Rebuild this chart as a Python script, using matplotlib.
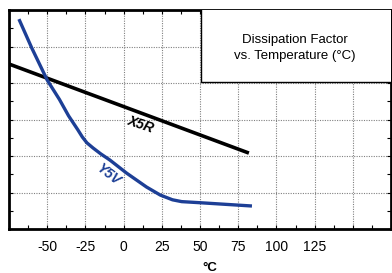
import matplotlib
matplotlib.use("Agg")
import matplotlib.pyplot as plt
from matplotlib.patches import Rectangle
from matplotlib.ticker import MultipleLocator, FixedLocator, FixedFormatter

# Data (temperature in °C, dissipation factor in arbitrary grid units)
x5r_temp = [-75, 82]
x5r_df = [4.52, 2.08]

y5v_temp = [-68.5, -60, -50, -42, -36, -30, -27, -24, -20, -15, -9, 2, 15, 24, 32, 38, 50, 84]
y5v_df = [5.75, 4.95, 4.08, 3.55, 3.1, 2.72, 2.52, 2.36, 2.22, 2.06, 1.89, 1.53, 1.15, 0.93, 0.8, 0.75, 0.72, 0.63]

xtick_vals = [-75, -50, -25, 0, 25, 50, 75, 100, 125, 150, 175]
xtick_labels = ["", "-50", "-25", "0", "25", "50", "75", "100", "125", "", ""]

plt.rcParams['font.family'] = ['Liberation Sans', 'DejaVu Sans']

fig = plt.figure(figsize=(3.92, 2.73), dpi=100)
ax = fig.add_axes([9/392, 44/273, 382/392, 219/273])
ax.set_xlim(-75, 175)
ax.set_ylim(0, 6)

ax.xaxis.set_major_locator(FixedLocator(xtick_vals))
ax.xaxis.set_major_formatter(FixedFormatter(xtick_labels))
ax.xaxis.set_minor_locator(MultipleLocator(12.5))
ax.yaxis.set_major_locator(MultipleLocator(1))
ax.yaxis.set_minor_locator(MultipleLocator(0.5))
ax.set_yticklabels([])
ax.tick_params(axis='both', which='both', direction='in', top=True, right=True,
               length=3, width=0.8, labelsize=10, pad=8)
ax.tick_params(axis='y', which='both', labelleft=False)
ax.grid(True, which='major', color='#808080', linestyle=(0, (1, 1.2)), linewidth=0.8)

for s in ax.spines.values():
    s.set_linewidth(2)
    s.set_color('black')

ax.plot(x5r_temp, x5r_df, color='black', linewidth=2.6, solid_capstyle='butt', zorder=3)
ax.plot(y5v_temp, y5v_df, color='#1d3f96', linewidth=2.4, solid_capstyle='butt',
        solid_joinstyle='round', zorder=3)

ax.text(11, 2.85, "X5R", fontsize=10, fontweight='bold', fontstyle='italic',
        rotation=-19, ha='center', va='center', color='black')
ax.text(-10, 1.47, "Y5V", fontsize=10, fontweight='bold', fontstyle='italic',
        rotation=-38, ha='center', va='center', color='#1d3f96')

# Title box
ax.add_patch(Rectangle((50.6, 4.03), 130, 2.2, transform=ax.transData,
                       facecolor='white', edgecolor='black', linewidth=1.0,
                       zorder=4, clip_on=True))
ax.text(112, 4.95, "Dissipation Factor\nvs. Temperature (°C)", fontsize=9.5,
        ha='center', va='center', linespacing=1.45, zorder=5)

fig.text(210/392, 1 - 268/273, "°C", fontsize=9.5, fontweight='bold',
         ha='center', va='center')

fig.savefig("out.png", dpi=100)
